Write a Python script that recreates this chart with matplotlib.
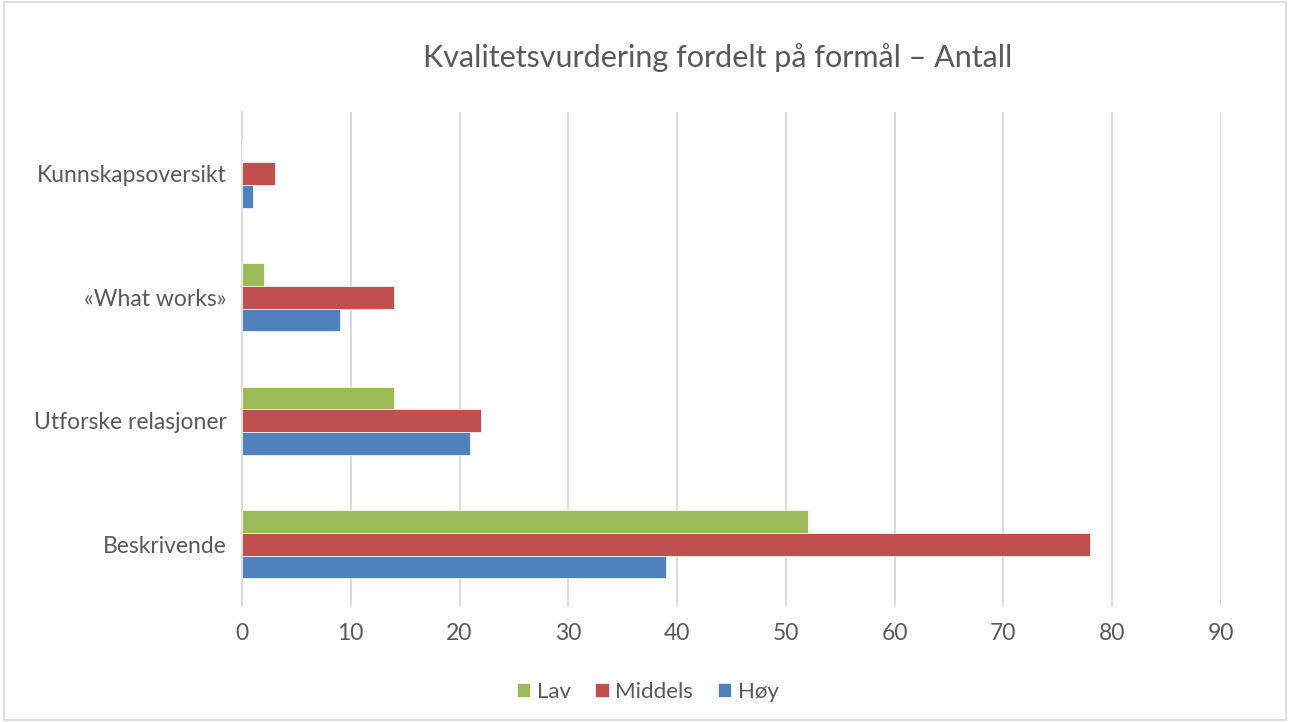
import numpy as np
import matplotlib.pyplot as plt
from matplotlib.patches import Rectangle

plt.rcParams['font.family'] = ['Lato', 'DejaVu Sans']

kategorier = ['Beskrivende', 'Utforske relasjoner', '«What works»', 'Kunnskapsoversikt']
lav = [52, 14, 2, 0]
middels = [78, 22, 14, 3]
hoy = [39, 21, 9, 1]
serier = ['Lav', 'Middels', 'Høy']
farger = ['#9BBB59', '#C0504D', '#4F81BD']
grid_farge = '#D9D9D9'
tekst_farge = '#595959'

fig = plt.figure(figsize=(12.9, 7.22), dpi=100)
ax = fig.add_axes([0.1876, 0.1607, 0.7589, 0.6842])

y = np.arange(len(kategorier))
h = 0.184
ax.barh(y + h, lav, height=h, color=farger[0], edgecolor='white', linewidth=0.5, label='Lav', zorder=3)
ax.barh(y, middels, height=h, color=farger[1], edgecolor='white', linewidth=0.5, label='Middels', zorder=3)
ax.barh(y - h, hoy, height=h, color=farger[2], edgecolor='white', linewidth=0.5, label='Høy', zorder=3)

ax.set_xlim(0, 90)
ax.set_ylim(-0.5, 3.5)
ax.set_xticks(range(0, 91, 10))
ax.set_yticks(y)
ax.set_yticklabels(kategorier)
ax.xaxis.grid(True, color=grid_farge, linewidth=1.3, zorder=0)
for s in ['top', 'right', 'bottom']:
    ax.spines[s].set_visible(False)
ax.spines['left'].set_color(grid_farge)
ax.spines['left'].set_linewidth(1.3)
ax.tick_params(axis='both', length=0, labelsize=16.5, labelcolor=tekst_farge)
ax.tick_params(axis='x', pad=12)
ax.tick_params(axis='y', pad=11)

fig.text(0.556, 0.921, 'Kvalitetsvurdering fordelt på formål – Antall',
         ha='center', va='center', fontsize=22, color=tekst_farge)

fig.legend(loc='center', bbox_to_anchor=(0.502, 0.042), ncol=3, frameon=False,
           fontsize=16, labelcolor=tekst_farge, handlelength=0.6, handleheight=0.6,
           handletextpad=0.3, columnspacing=1.1)

fig.patches.append(Rectangle((0.003, 0.003), 0.994, 0.994, transform=fig.transFigure,
                             fill=False, edgecolor='#D9D9D9', linewidth=1.2))

plt.savefig('out.png', dpi=100)
